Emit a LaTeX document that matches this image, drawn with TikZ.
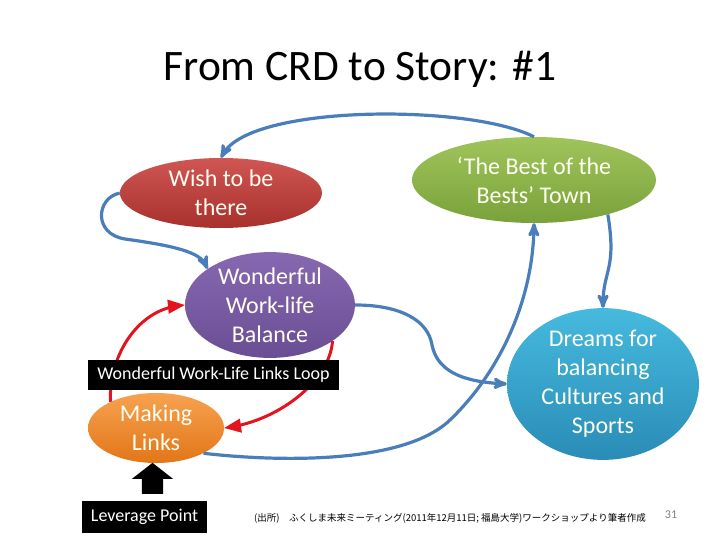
\documentclass[tikz,border=0pt]{standalone}
\usepackage{fontspec}
\setmainfont{Carlito}
\newfontfamily\jpfont{Noto Sans CJK JP}
\usetikzlibrary{shapes,arrows}

\definecolor{linkblue}{HTML}{4A7EBB}
\definecolor{looped}{HTML}{E3141E}

\begin{document}
\begin{tikzpicture}[%
    x=1pt, y=-1pt,              % work on the slide grid, y going down
    >=stealth',                 % Small sharp arrows
    ]
% -------------------------------------------------
% Styles for the bubbles and the links
\tikzset{
  base/.style={ellipse, inner sep=0pt, align=center, text=white!95!yellow,
    font=\fontsize{24}{29}\selectfont},
  wish/.style={base, top color={rgb,255:red,207;green,86;blue,82}, bottom color={rgb,255:red,168;green,48;blue,45}},
  best/.style={base, top color={rgb,255:red,160;green,196;blue,92}, bottom color={rgb,255:red,122;green,162;blue,58}},
  wlb/.style={base, top color={rgb,255:red,134;green,104;blue,176}, bottom color={rgb,255:red,106;green,78;blue,148}},
  mlinks/.style={base, top color={rgb,255:red,247;green,162;blue,80}, bottom color={rgb,255:red,226;green,118;blue,24}},
  dream/.style={base, top color={rgb,255:red,70;green,186;blue,222}, bottom color={rgb,255:red,42;green,140;blue,182}},
  blueflow/.style={->, draw=linkblue, line width=3.2pt},
  redflow/.style={-triangle 45, draw=looped, line width=3pt},
  tag/.style={fill=black, text=white, inner sep=0pt, font=\fontsize{18}{21}\selectfont}
}
\useasboundingbox (0,0) rectangle (720,540);
% -------------------------------------------------
% Title and bubbles
\node [anchor=base, font=\fontsize{43.5}{50}\selectfont] (title) at (360,81) {From CRD to Story: \#1};

\node [wish, minimum width=202pt, minimum height=70pt] (w) at (221,193) {Wish to be\\there};
\node [best, minimum width=244pt, minimum height=86pt] (b) at (534,180) {‘The Best of the\\Bests’ Town};
\node [wlb, minimum width=170pt, minimum height=84pt] (wl) at (270,305) {Wonderful\\Work-life\\Balance};
\node [mlinks, minimum width=136pt, minimum height=70pt] (ml) at (156,428) {Making\\Links};
\node [dream, minimum width=192pt, minimum height=128pt] (d) at (603,384) {Dreams for\\balancing\\Cultures and\\Sports};

% -------------------------------------------------
% Blue links
\draw [blueflow] (b.north) .. controls (470,104) and (250,104) .. (w.north);
\draw [blueflow] (w.west) .. controls (96,198) and (93,234) .. (125,239)
    .. controls (175,246) and (200,252) .. (wl.150);
\draw [blueflow] (wl.east) .. controls (400,305) and (428,320) .. (432,345)
    .. controls (438,375) and (470,382) .. (d.west);
\draw [blueflow] (ml.-28) .. controls (260,460) and (400,468) .. (450,420)
    .. controls (500,372) and (533,300) .. (b.south);
\draw [blueflow] (b.-25) .. controls (617,270) and (603,270) .. (d.north);

% Red loop
\draw [redflow] (ml.150) .. controls (108,360) and (135,310) .. (wl.west);
\draw [redflow] (wl.-30) .. controls (330,380) and (280,420) .. (ml.east);

% -------------------------------------------------
% Labels
\node [tag, minimum width=251pt, minimum height=30pt] (looplbl) at (213.5,375) {Wonderful Work-Life Links Loop};
\node [tag, minimum width=125pt, minimum height=32pt] (lev) at (144.5,517) {Leverage Point};
\node [single arrow, fill=black, rotate=90, inner sep=10.5pt, single arrow head extend=10pt,
  single arrow tip angle=104, minimum height=31pt] (up) at (152.5,482.5) {};

\node [font=\jpfont\fontsize{9.5}{11}\selectfont] (src) at (450,518)
  {(出所)　ふくしま未来ミーティング(2011年12月11日; 福島大学)ワークショップより筆者作成};
\node [text=gray, font=\fontsize{12}{14}\selectfont] (pg) at (671,515) {31};
% -------------------------------------------------
\end{tikzpicture}
\end{document}
